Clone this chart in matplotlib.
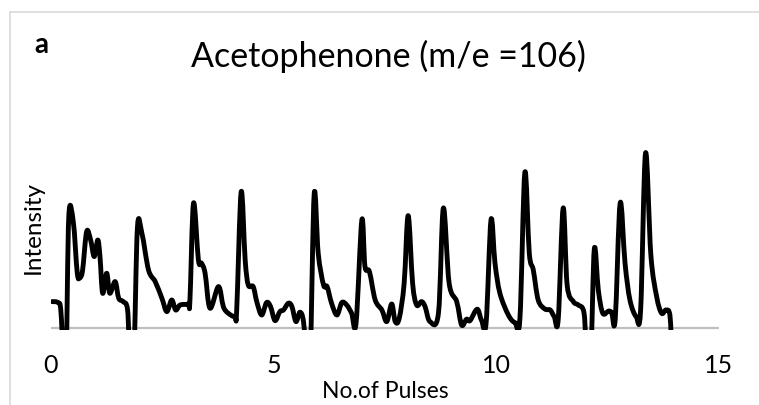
import numpy as np
import matplotlib.pyplot as plt
from matplotlib.lines import Line2D
from matplotlib.path import Path
from matplotlib.patches import PathPatch

plt.rcParams['font.family'] = ['Lato', 'DejaVu Sans']

# ion signal of acetophenone (m/e = 106) against pulse number
# readings below zero fall under the axis and are cut off by the plot area
pulses = [0.02, 0.16, 0.22, 0.28, 0.34, 0.40, 0.50, 0.59, 0.65, 0.71,
          0.80, 0.89, 0.97, 1.05, 1.10, 1.16, 1.25, 1.32, 1.44, 1.52,
          1.62, 1.72, 1.77, 1.86, 1.94, 2.04, 2.19, 2.34, 2.49, 2.60,
          2.71, 2.80, 2.90, 3.08, 3.12, 3.20, 3.31, 3.38, 3.46, 3.57,
          3.76, 3.87, 3.98, 4.13, 4.17, 4.27, 4.36, 4.43, 4.54, 4.62,
          4.73, 4.84, 4.93, 5.03, 5.14, 5.22, 5.33, 5.41, 5.50, 5.59,
          5.67, 5.74, 5.82, 5.91, 6.00, 6.12, 6.20, 6.30, 6.42, 6.53,
          6.64, 6.75, 6.85, 6.98, 7.05, 7.15, 7.28, 7.43, 7.54, 7.65,
          7.73, 7.82, 7.93, 8.02, 8.12, 8.21, 8.32, 8.40, 8.51, 8.70,
          8.81, 8.94, 9.11, 9.22, 9.33, 9.41, 9.57, 9.67, 9.77, 9.88,
          9.97, 10.08, 10.27, 10.42, 10.53, 10.64, 10.74, 10.83, 10.94, 11.09,
          11.21, 11.30, 11.39, 11.50, 11.59, 11.73, 11.84, 11.97, 12.03, 12.12,
          12.20, 12.29, 12.39, 12.52, 12.59, 12.67, 12.78, 12.89, 13.00, 13.14,
          13.24, 13.35, 13.47, 13.60, 13.71, 13.81, 13.90, 13.94]
intensity = [13.2, 12.7, 9.0, -15, -15, 56.0, 53.2, 27.4, 25.2, 29.0,
             48.2, 44.0, 35.7, 44.0, 35.7, 17.4, 27.4, 17.4, 23.2, 14.9,
             13.2, 9.0, -15, -15, 50.0, 47.5, 29.0, 23.2, 14.9, 8.2,
             14.0, 9.0, 11.5, 12.0, 14.0, 62.4, 34.0, 32.4, 27.4, 9.9,
             20.7, 10.7, 7.4, 5.7, 9.0, 68.0, 34.0, 21.5, 20.7, 13.2,
             6.5, 12.7, 10.7, 3.7, 8.2, 9.0, 12.4, 10.7, 3.2, 7.9,
             3.2, -15, -15, 67.0, 37.4, 21.5, 20.7, 12.4, 6.5, 12.7,
             11.5, 7.4, 2.4, 54.0, 30.7, 28.2, 14.0, 9.0, 3.2, 12.0,
             3.2, 4.9, 22.4, 56.2, 22.4, 11.5, 13.2, 10.7, 3.2, 7.4,
             59.9, 22.4, 13.2, 1.5, 4.4, 3.7, 9.4, 3.7, 2.4, 54.0,
             32.4, 17.4, 6.5, 2.7, 4.9, 77.7, 37.4, 29.0, 14.0, 9.5,
             9.0, 5.7, 4.4, 59.9, 21.5, 13.2, 11.5, 7.4, -15, -15,
             39.5, 19.0, 7.4, 8.5, 7.7, 4.4, 62.4, 32.4, 14.0, 5.7,
             9.0, 87.4, 36.5, 15.7, 7.4, 9.0, 6.0, -15]

x_ticks = [0, 5, 10, 15]


def smooth_path(x, y):
    # Excel-style smoothed line: cubic Bezier through every point,
    # control points taken from the neighbouring points (Catmull-Rom)
    p = np.column_stack([x, y]).astype(float)
    ext = np.vstack([p[0], p, p[-1]])
    verts = [p[0]]
    codes = [Path.MOVETO]
    for i in range(1, len(ext) - 2):
        p0, p1, p2, p3 = ext[i - 1], ext[i], ext[i + 1], ext[i + 2]
        verts += [p1 + (p2 - p0) / 6, p2 - (p3 - p1) / 6, p2]
        codes += [Path.CURVE4] * 3
    return Path(verts, codes)


W, H = 759, 405
fig = plt.figure(figsize=(W / 100, H / 100), dpi=100)

# light grey frame round the chart (left and top edges only show)
fig.add_artist(Line2D([10 / W, 10 / W], [-0.05, 1 - 11.7 / H], color='#D9D9D9', lw=1.2))
fig.add_artist(Line2D([10 / W, 1.05], [1 - 11.7 / H, 1 - 11.7 / H], color='#D9D9D9', lw=1.2))

ax = fig.add_axes([51 / W, 75 / H, 668 / W, 222 / H])
ax.axhline(0, color='#BFBFBF', lw=1.6, zorder=1)
ax.add_patch(PathPatch(smooth_path(pulses, intensity), fill=False, edgecolor='black',
                       lw=3.5, joinstyle='round', capstyle='round', zorder=2))

ax.set_xlim(0, 15)
ax.set_ylim(-1, 110)
ax.set_xticks(x_ticks)
ax.set_yticks([])
ax.tick_params(axis='x', length=0, pad=17, labelsize=18)
for s in ax.spines.values():
    s.set_visible(False)

fig.text(385 / W, 1 - 398 / H, 'No.of Pulses', ha='center', va='baseline', fontsize=16.5)
fig.text(33 / W, 1 - 227 / H, 'Intensity', rotation=90, ha='center', va='center', fontsize=17.5)
fig.text(388 / W, 1 - 67 / H, 'Acetophenone (m/e =106)', ha='center', va='baseline', fontsize=24.5)
fig.text(34 / W, 1 - 53 / H, 'a', ha='left', va='baseline', fontsize=20, fontweight='bold')

fig.savefig('out.png', dpi=100)
